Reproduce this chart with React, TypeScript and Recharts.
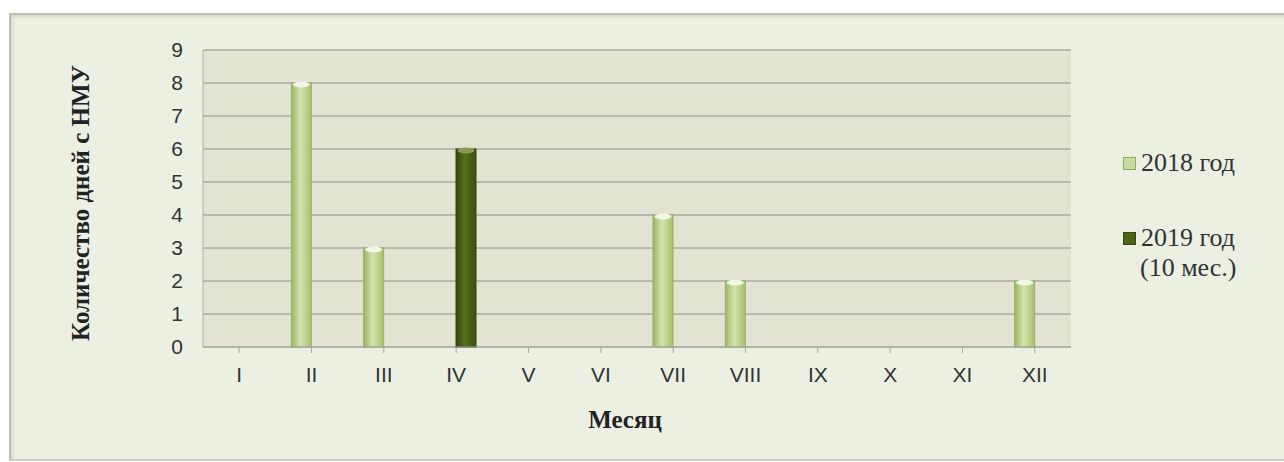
import React from "react";
import {
  BarChart,
  Bar,
  XAxis,
  YAxis,
  CartesianGrid,
  Label,
} from "recharts";

const months = ["I", "II", "III", "IV", "V", "VI", "VII", "VIII", "IX", "X", "XI", "XII"];
const days2018 = [0, 8, 3, 0, 0, 0, 4, 2, 0, 0, 0, 2];
const days2019 = [0, 0, 0, 6, 0, 0, 0, 0, 0, 0, null, null];
const yTicks = [0, 1, 2, 3, 4, 5, 6, 7, 8, 9];

const data = months.map((m, i) => ({
  month: m,
  y2018: days2018[i],
  y2019: days2019[i],
}));

const tickFont = '"Liberation Sans", Arial, sans-serif';
const titleFont = '"Liberation Serif", "Times New Roman", serif';

// столбик-цилиндр со светлой "крышкой"
const makeBar = (fillId: string, edge: string, cap: string) => (props: any) => {
  const { x, y, width, height } = props;
  if (!height || height <= 0) return null;
  return (
    <g>
      <rect x={x} y={y} width={width} height={height} fill={`url(#${fillId})`} stroke={edge} strokeWidth={1} />
      <ellipse cx={x + width / 2} cy={y + 1.5} rx={width / 2 - 1.5} ry={3} fill={cap} />
    </g>
  );
};

function ChartLegend() {
  return (
    <div
      style={{
        position: "absolute",
        left: 1123,
        top: 148,
        fontFamily: titleFont,
        fontSize: 26,
        color: "#333",
        lineHeight: "30px",
      }}
    >
      <div style={{ display: "flex", alignItems: "center" }}>
        <span style={{ width: 11, height: 11, marginRight: 5, background: "#c9dc9f", border: "1px solid #8fa860" }} />
        2018 год
      </div>
      <div style={{ display: "flex", alignItems: "center", marginTop: 45 }}>
        <span style={{ width: 11, height: 11, marginRight: 5, background: "#4d6414", border: "1px solid #34460a" }} />
        2019 год
      </div>
      <div style={{ paddingLeft: 17 }}>(10 мес.)</div>
    </div>
  );
}

export default function App() {
  return (
    <div style={{ position: "absolute", left: 0, top: 0, width: 1284, height: 462, background: "#fff", overflow: "hidden" }}>
      {/* рамка диаграммы */}
      <div
        style={{
          position: "absolute",
          left: 9,
          top: 13,
          width: 1290,
          height: 444,
          background: "#ebf0e2",
          borderTop: "2px solid #b9bfb1",
          borderLeft: "2px solid #b9bfb1",
          borderBottom: "2px solid #c8cdc0",
          boxShadow: "inset 2px 2px 3px #d4d9cc",
        }}
      />
      <div style={{ position: "absolute", left: 0, top: 0 }}>
        <BarChart
          width={1284}
          height={462}
          data={data}
          margin={{ top: 50, right: 213, bottom: 0, left: 0 }}
          barGap={0}
          barSize={20}
        >
          <defs>
            <linearGradient id="g2018" x1="0" y1="0" x2="1" y2="0">
              <stop offset="0%" stopColor="#9cb565" />
              <stop offset="45%" stopColor="#d3e4ad" />
              <stop offset="100%" stopColor="#a6bf70" />
            </linearGradient>
            <linearGradient id="g2019" x1="0" y1="0" x2="1" y2="0">
              <stop offset="0%" stopColor="#33460a" />
              <stop offset="45%" stopColor="#56701c" />
              <stop offset="100%" stopColor="#3a500c" />
            </linearGradient>
          </defs>
          <CartesianGrid vertical={false} stroke="#8e8e86" fill="#e3e3d4" />
          <XAxis
            dataKey="month"
            height={115}
            tick={{ fontFamily: tickFont, fontSize: 21, fill: "#333" }}
            tickLine={{ stroke: "#a8a8a0" }}
            axisLine={{ stroke: "#a8a8a0" }}
            tickSize={6}
            tickMargin={14}
          >
            <Label
              content={({ viewBox }: any) => (
                <text
                  x={viewBox.x + viewBox.width / 2 - 12}
                  y={428}
                  textAnchor="middle"
                  fontFamily={titleFont}
                  fontWeight="bold"
                  fontSize={25}
                  fill="#222"
                >
                  Месяц
                </text>
              )}
            />
          </XAxis>
          <YAxis
            width={203}
            domain={[0, 9]}
            ticks={yTicks}
            interval={0}
            tick={{ fontFamily: tickFont, fontSize: 21, fill: "#333" }}
            tickLine={false}
            axisLine={{ stroke: "#b0b0a8" }}
            tickSize={6}
            tickMargin={14}
          >
            <Label
              content={() => (
                <text
                  x={0}
                  y={0}
                  transform="translate(89 203) rotate(-90)"
                  textAnchor="middle"
                  fontFamily={titleFont}
                  fontWeight="bold"
                  fontSize={25}
                  fill="#222"
                >
                  Количество дней с НМУ
                </text>
              )}
            />
          </YAxis>
          <Bar
            dataKey="y2018"
            name="2018 год"
            shape={makeBar("g2018", "#98b062", "#f2f6e4")}
            isAnimationActive={false}
          />
          <Bar
            dataKey="y2019"
            name="2019 год (10 мес.)"
            shape={makeBar("g2019", "#33450a", "#8a9a52")}
            isAnimationActive={false}
          />
        </BarChart>
      </div>
      <ChartLegend />
    </div>
  );
}
